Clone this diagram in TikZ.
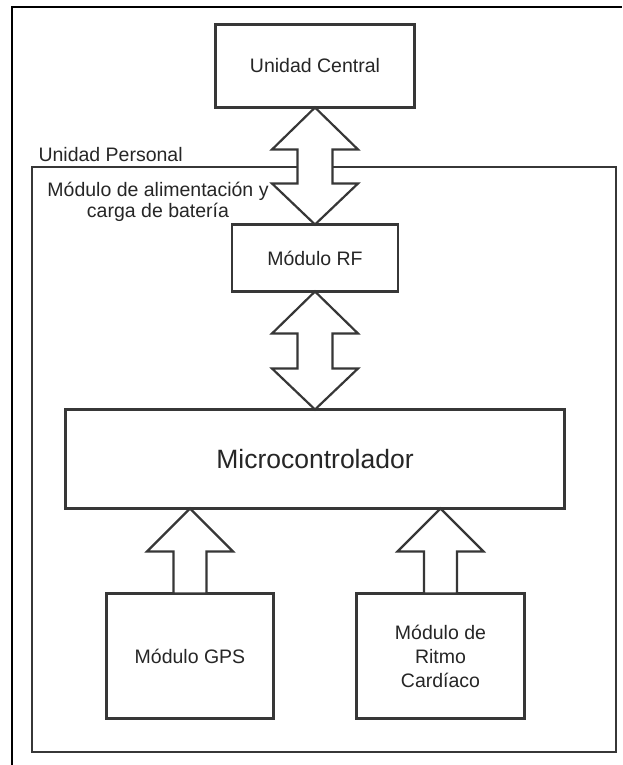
\documentclass[tikz,border=0pt]{standalone}
\usepackage{fontspec}
\setmainfont{Liberation Sans}
\usetikzlibrary{calc}
\definecolor{trazo}{RGB}{55,55,55}

\tikzset{
  caja/.style={draw=trazo,line width=2.2pt,fill=white,inner sep=0pt,outer sep=0pt,
    align=center,text=black!85,font=\fontsize{19.5}{24}\selectfont},
  flecha/.style={draw=trazo,line width=2.2pt,fill=white,line join=miter}
}

\begin{document}
\begin{tikzpicture}[x=1pt,y=-1pt]
\useasboundingbox (0,0) rectangle (622,765);
\draw[line width=1.8pt,black](12,765)--(12,7)--(622,7);
% contenedor
\node[caja,minimum width=584,minimum height=585](P)at(324,459.5){};
\node[anchor=base west,text=black!85,font=\fontsize{19.5}{24}\selectfont](UP)at(35,161){Unidad Personal};
\node[align=center,text=black!85,font=\fontsize{19.5}{21}\selectfont,inner sep=0pt](AL)at(158,202){Módulo de alimentación y\\carga de batería};
% bloques
\node[caja,minimum width=199,minimum height=83](C)at(315,66){Unidad Central};
\node[caja,minimum width=166,minimum height=67](RF)at(315,258){Módulo RF};
\node[caja,minimum width=499,minimum height=99,font=\fontsize{26.5}{30}\selectfont](M)at(315,459){Microcontrolador};
\node[caja,minimum width=167,minimum height=125](GPS)at(190,656){Módulo GPS};
\node[caja,minimum width=168,minimum height=125](R)at(440.5,656){Módulo de\\Ritmo\\Cardíaco};
% flechas dobles
\filldraw[flecha](C.south)--($(C.south)+(43,42)$)--($(C.south)+(17.5,42)$)--($(RF.north)+(17.5,-41)$)
  --($(RF.north)+(43,-41)$)--(RF.north)--($(RF.north)+(-43,-41)$)--($(RF.north)+(-17.5,-41)$)
  --($(C.south)+(-17.5,42)$)--($(C.south)+(-43,42)$)--cycle;
\filldraw[flecha](RF.south)--($(RF.south)+(43,42)$)--($(RF.south)+(17.5,42)$)--($(M.north)+(17.5,-41)$)
  --($(M.north)+(43,-41)$)--(M.north)--($(M.north)+(-43,-41)$)--($(M.north)+(-17.5,-41)$)
  --($(RF.south)+(-17.5,42)$)--($(RF.south)+(-43,42)$)--cycle;
% flechas simples
\filldraw[flecha](GPS.north|-M.south)--($(GPS.north|-M.south)+(43,43)$)--($(GPS.north|-M.south)+(16.5,43)$)
  --($(GPS.north)+(16.5,0)$)--($(GPS.north)+(-16.5,0)$)--($(GPS.north|-M.south)+(-16.5,43)$)
  --($(GPS.north|-M.south)+(-43,43)$)--cycle;
\filldraw[flecha](R.north|-M.south)--($(R.north|-M.south)+(43,43)$)--($(R.north|-M.south)+(16.5,43)$)
  --($(R.north)+(16.5,0)$)--($(R.north)+(-16.5,0)$)--($(R.north|-M.south)+(-16.5,43)$)
  --($(R.north|-M.south)+(-43,43)$)--cycle;
\end{tikzpicture}
\end{document}
